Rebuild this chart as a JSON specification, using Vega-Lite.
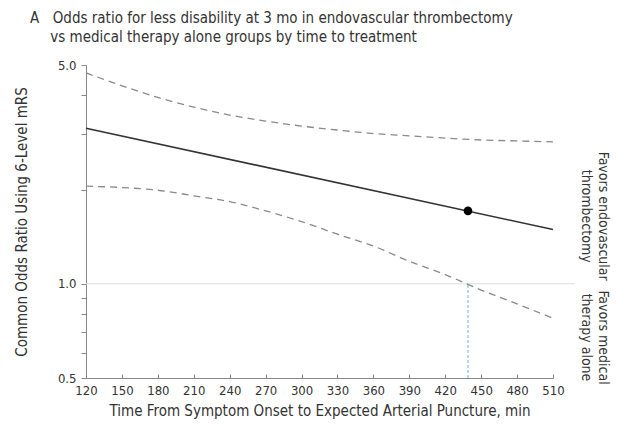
{
  "$schema": "https://vega.github.io/schema/vega-lite/v6.json",
  "width": 467,
  "height": 313,
  "autosize": {"type": "none"},
  "padding": {"left": 86, "top": 65, "right": 71, "bottom": 48},
  "background": "white",
  "config": {
    "font": "DejaVu Sans Condensed",
    "view": {"stroke": null},
    "axis": {"labelOverlap": false},
    "axisX": {"labelOverlap": false, "labelFlush": false},
    "axisQuantitative": {"labelOverlap": false}
  },
  "title": {
    "text": ["A\u2003Odds ratio for less disability at 3 mo in endovascular thrombectomy", "\u200b\u2003\u2002vs medical therapy alone groups by time to treatment"],
    "anchor": "start",
    "frame": "group",
    "dx": -56,
    "offset": 14,
    "fontSize": 15,
    "fontWeight": "normal",
    "color": "#333333",
    "lineHeight": 19
  },
  "datasets": {
    "ci": [
      {"time": 120, "bound": "upper", "or": 4.72},
      {"time": 150, "bound": "upper", "or": 4.29},
      {"time": 180, "bound": "upper", "or": 3.94},
      {"time": 210, "bound": "upper", "or": 3.67},
      {"time": 240, "bound": "upper", "or": 3.46},
      {"time": 270, "bound": "upper", "or": 3.31},
      {"time": 300, "bound": "upper", "or": 3.19},
      {"time": 330, "bound": "upper", "or": 3.10},
      {"time": 360, "bound": "upper", "or": 3.02},
      {"time": 390, "bound": "upper", "or": 2.97},
      {"time": 420, "bound": "upper", "or": 2.92},
      {"time": 450, "bound": "upper", "or": 2.88},
      {"time": 480, "bound": "upper", "or": 2.86},
      {"time": 510, "bound": "upper", "or": 2.84},
      {"time": 120, "bound": "lower", "or": 2.05},
      {"time": 150, "bound": "lower", "or": 2.03},
      {"time": 180, "bound": "lower", "or": 1.99},
      {"time": 210, "bound": "lower", "or": 1.91},
      {"time": 240, "bound": "lower", "or": 1.83},
      {"time": 270, "bound": "lower", "or": 1.71},
      {"time": 300, "bound": "lower", "or": 1.58},
      {"time": 330, "bound": "lower", "or": 1.44},
      {"time": 360, "bound": "lower", "or": 1.32},
      {"time": 390, "bound": "lower", "or": 1.18},
      {"time": 420, "bound": "lower", "or": 1.07},
      {"time": 450, "bound": "lower", "or": 0.955},
      {"time": 480, "bound": "lower", "or": 0.862},
      {"time": 510, "bound": "lower", "or": 0.776}
    ],
    "est": [
      {"time": 120, "or": 3.14},
      {"time": 510, "or": 1.49}
    ],
    "pt": [
      {"time": 439, "or": 1.71}
    ],
    "vline": [
      {"time": 439, "lo": 0.5, "hi": 1.0}
    ],
    "ref": [
      {"time": 120, "end": 528, "or": 1.0}
    ],
    "favors": [
      {"time": 510, "or": 1.65, "label": "endo"},
      {"time": 510, "or": 0.676, "label": "med"}
    ]
  },
  "encoding": {
    "x": {
      "field": "time", "type": "quantitative",
      "scale": {"domain": [120, 510], "nice": false, "zero": false},
      "axis": {
        "values": [120, 150, 180, 210, 240, 270, 300, 330, 360, 390, 420, 450, 480, 510],
        "title": "Time From Symptom Onset to Expected Arterial Puncture, min",
        "grid": false,
        "tickSize": -4,
        "tickColor": "#888888",
        "domainColor": "#888888",
        "labelColor": "#333333",
        "labelFontSize": 13,
        "labelPadding": 10,
        "labelFlush": false,
        "labelOverlap": false,
        "titleFontSize": 15,
        "titleFontWeight": "normal",
        "titleColor": "#333333",
        "titlePadding": 6
      }
    }
  },
  "layer": [
    {
      "data": {"name": "ref"},
      "mark": {"type": "rule", "color": "#dddddd", "strokeWidth": 1},
      "encoding": {
        "x2": {"field": "end"},
        "y": {
          "field": "or", "type": "quantitative",
          "scale": {"type": "log", "domain": [0.5, 5], "nice": false},
          "axis": {
            "orient": "left",
            "values": [0.5, 0.6, 0.7, 0.8, 0.9, 1, 2, 3, 4, 5],
            "labelExpr": "(datum.value == 0.5 || datum.value == 1 || datum.value == 5) ? format(datum.value, '.1f') : ''",
            "title": "Common Odds Ratio Using 6-Level mRS",
            "grid": false,
            "tickSize": 5,
            "tickColor": "#888888",
            "domainColor": "#888888",
            "labelColor": "#333333",
            "labelFontSize": 13,
            "labelPadding": 5,
            "labelOverlap": false,
            "titleFontSize": 15,
            "titleFontWeight": "normal",
            "titleColor": "#333333",
            "titlePadding": 28
          }
        }
      }
    },
    {
      "data": {"name": "favors"},
      "mark": {"type": "point", "opacity": 0},
      "encoding": {
        "y": {
          "field": "or", "type": "quantitative",
          "axis": {
            "orient": "right",
            "values": [1.65, 0.676],
            "labelExpr": "datum.value > 1 ? ['Favors endovascular', 'thrombectomy'] : ['Favors medical', 'therapy alone']",
            "labelAngle": 90,
            "labelAlign": "center",
            "labelBaseline": "bottom",
            "labelPadding": 42,
            "labelFontSize": 14,
            "labelLineHeight": 17,
            "labelColor": "#333333",
            "labelOverlap": false,
            "labelBound": false,
            "ticks": false,
            "domain": false,
            "grid": false,
            "title": null
          }
        }
      }
    },
    {
      "data": {"name": "vline"},
      "mark": {"type": "rule", "color": "#6bb6dc", "strokeWidth": 1, "strokeDash": [3, 2]},
      "encoding": {
        "y": {"field": "lo", "type": "quantitative", "axis": null},
        "y2": {"field": "hi"}
      }
    },
    {
      "data": {"name": "ci"},
      "mark": {"type": "line", "color": "#8a8a8a", "strokeWidth": 1.3, "strokeDash": [7, 5], "interpolate": "monotone"},
      "encoding": {
        "y": {"field": "or", "type": "quantitative", "axis": null},
        "detail": {"field": "bound"}
      }
    },
    {
      "data": {"name": "est"},
      "mark": {"type": "line", "color": "#333333", "strokeWidth": 1.6},
      "encoding": {
        "y": {"field": "or", "type": "quantitative", "axis": null}
      }
    },
    {
      "data": {"name": "pt"},
      "mark": {"type": "point", "filled": true, "color": "#000000", "opacity": 1, "size": 75},
      "encoding": {
        "y": {"field": "or", "type": "quantitative", "axis": null}
      }
    }
  ],
  "resolve": {"axis": {"y": "independent"}}
}
